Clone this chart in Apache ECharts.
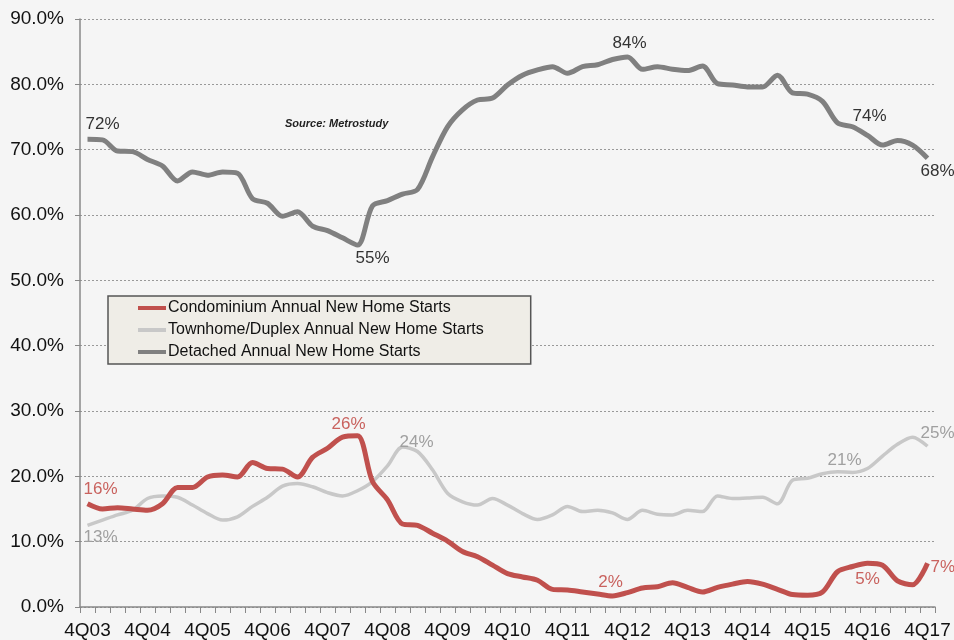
<!DOCTYPE html>
<html>
<head>
<meta charset="utf-8">
<script src="https://cdn.jsdelivr.net/npm/echarts@6/dist/echarts.min.js"></script>
<style>html,body{margin:0;padding:0;background:#f5f5f5;}#c{width:954px;height:640px;}</style>
</head>
<body>
<div id="c"></div>
<script>
// Quarterly categories 4Q03 .. 4Q17
const categories = [];
for (let y = 3; y <= 17; y++) {
  const yy = (y < 10 ? '0' : '') + y;
  if (y === 3) { categories.push('4Q' + yy); continue; }
  ['1Q', '2Q', '3Q', '4Q'].forEach(q => categories.push(q + yy));
}

const condo = [15.8,15.0,15.2,15.0,14.8,15.8,18.3,18.3,19.9,20.2,19.9,22.1,21.2,21.1,19.9,22.9,24.3,26.0,26.2,19.2,16.4,12.7,12.5,11.3,10.1,8.5,7.7,6.4,5.1,4.6,4.1,2.7,2.6,2.3,2.0,1.7,2.2,2.9,3.1,3.7,3.0,2.3,3.0,3.5,3.9,3.5,2.7,1.9,1.8,2.3,5.4,6.2,6.7,6.4,4.0,3.4,6.7];
const townhome = [12.5,13.3,14.1,14.8,16.6,17.0,16.8,15.6,14.3,13.3,13.8,15.4,16.8,18.5,18.9,18.4,17.5,17.0,17.8,19.2,21.6,24.5,23.8,21.0,17.4,16.1,15.6,16.6,15.6,14.3,13.4,14.1,15.4,14.6,14.8,14.4,13.4,14.8,14.2,14.1,14.8,14.6,17.0,16.6,16.7,16.8,15.8,19.4,19.7,20.4,20.7,20.6,21.2,23.1,24.9,26.0,24.6];
const detached = [71.6,71.5,69.8,69.7,68.5,67.5,65.2,66.6,66.1,66.6,66.4,62.5,61.8,59.8,60.5,58.3,57.6,56.5,55.4,61.4,62.2,63.2,63.9,68.9,73.5,76.1,77.6,77.9,79.9,81.4,82.2,82.7,81.7,82.7,83.0,83.8,84.2,82.3,82.7,82.3,82.1,82.8,80.1,79.9,79.6,79.6,81.4,78.7,78.5,77.4,74.1,73.5,72.2,70.7,71.4,70.7,68.7];

const seriesNames = ['Condominium Annual New Home Starts', 'Townhome/Duplex Annual New Home Starts', 'Detached Annual New Home Starts'];

// annotations: [index, text]
const condoNotes = [[0,'16%'],[17,'26%'],[35,'2%'],[52,'5%'],[56,'7%']];
const townNotes = [[0,'13%'],[21,'24%'],[51,'21%'],[56,'25%']];
const detNotes = [[1,'72%'],[18,'55%'],[36,'84%'],[51,'74%'],[56,'68%']];

const labelPlacement = {
  condo: [['top',[13,-1]],['top',[6,1]],['top',[-2,0]],['bottom',[0,3]],['right',[-2,4]]],
  town: [['bottom',[13,-2]],['top',[14,9]],['top',[-8,1]],['top',[10,1]]],
  det: [['top',[0,-2]],['bottom',[15,0]],['top',[2,0]],['top',[17,3]],['bottom',[10,0]]]
};

const FONT = 'Liberation Sans, Arial, sans-serif';

function build(values, notes, places, color) {
  return values.map((v, i) => {
    const k = notes.findIndex(n => n[0] === i);
    if (k < 0) return v;
    return {
      value: v,
      label: {
        show: true, formatter: notes[k][1], position: places[k][0], offset: places[k][1],
        color: color, fontSize: 17, fontFamily: FONT, distance: 5
      }
    };
  });
}

function lineSeries(name, data, color, width, z) {
  return {
    name: name, type: 'line', data: data, smooth: 0.3,
    showSymbol: true, symbol: 'circle', symbolSize: 0,
    lineStyle: { color: color, width: width }, itemStyle: { color: color }, z: z,
    label: { show: false }
  };
}

const chart = echarts.init(document.getElementById('c'));
chart.setOption({
  backgroundColor: '#f5f5f5',
  animation: false,
  title: {
    text: 'Source: Metrostudy', left: 280, top: 113,
    textStyle: { fontSize: 11, fontStyle: 'italic', fontWeight: 'bold', color: '#222', fontFamily: FONT }
  },
  legend: {
    orient: 'vertical', left: 108, top: 296,
    data: seriesNames,
    icon: 'rect', itemWidth: 28, itemHeight: 4, itemGap: 6,
    padding: [4, 47, 4, 30],
    backgroundColor: '#efede7', borderColor: '#555', borderWidth: 1.5,
    textStyle: { fontSize: 16, color: '#111', fontFamily: FONT, padding: [0,0,0,-3] }
  },
  grid: { left: 80, right: 19, top: 19, bottom: 33 },
  xAxis: {
    type: 'category', data: categories, boundaryGap: true,
    axisLine: { lineStyle: { color: '#888', width: 1.5 } },
    axisTick: { show: true, interval: 0, length: 6, lineStyle: { color: '#888' } },
    axisLabel: { interval: 3, margin: 14, fontSize: 19, color: '#111', fontFamily: FONT },
    splitLine: { show: false }
  },
  yAxis: {
    type: 'value', min: 0, max: 90, interval: 10,
    axisLine: { show: true, lineStyle: { color: '#888', width: 1.5 } },
    axisTick: { show: true, length: 5, lineStyle: { color: '#888' } },
    axisLabel: { formatter: v => v.toFixed(1) + '%', margin: 16, fontSize: 19, color: '#111', fontFamily: FONT },
    splitLine: { lineStyle: { color: '#999', type: [2, 2], width: 1 } }
  },
  series: [
    lineSeries(seriesNames[0], build(condo, condoNotes, labelPlacement.condo, '#c9625e'), '#c0504d', 5, 4),
    lineSeries(seriesNames[1], build(townhome, townNotes, labelPlacement.town, '#a0a0a0'), '#c8c8c8', 3.5, 3),
    lineSeries(seriesNames[2], build(detached, detNotes, labelPlacement.det, '#333'), '#808080', 5, 3)
  ]
});
</script>
</body>
</html>
